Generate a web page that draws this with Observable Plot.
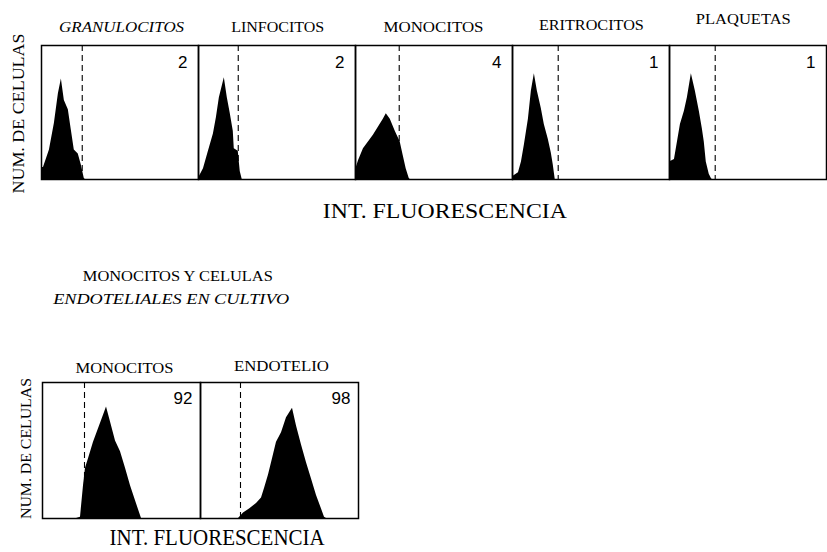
<!DOCTYPE html>
<html>
<head>
<meta charset="utf-8">
<script src="https://cdn.jsdelivr.net/npm/d3@7"></script>
<script src="https://cdn.jsdelivr.net/npm/@observablehq/plot@0.6"></script>
<style>
  html, body { margin: 0; padding: 0; background: #fff; }
  #root { position: relative; width: 827px; height: 552px; overflow: hidden; background: #fff; }
  .plotbox { position: absolute; left: 0; }
  .lbl { position: absolute; left: 0; top: 0; white-space: nowrap; line-height: 1; color: #000;
         font-family: "Liberation Serif", "DejaVu Serif", serif; transform-origin: center center; }
</style>
</head>
<body>
<div id="root"></div>
<script>
// ---------- DATA ----------
// Top row: cell types, histograms (x = fluorescence channel, y = % of panel height)
const topPanels = ["GRANULOCITOS", "LINFOCITOS", "MONOCITOS", "ERITROCITOS", "PLAQUETAS"];
const topNumbers = ["2", "2", "4", "1", "1"];
const topGates = [41, 40, 44, 46, 46];
const granX = [0, 2, 8, 13, 17, 20, 23, 27, 30, 33, 37, 40, 43, 44];
const granY = [9, 9, 22, 42, 64, 75, 59, 52, 37, 22, 19, 11, 1, 0];
const linfX = [0, 5, 10, 15, 18, 21, 24, 26, 29, 32, 35, 36, 40, 42, 44];
const linfY = [1, 8, 21, 34, 46, 61, 70, 76, 61, 49, 36, 23, 21, 6, 0];
const monoX = [0, 3, 8, 13, 18, 23, 28, 31, 35, 40, 45, 48, 51, 54, 55];
const monoY = [7, 14, 23, 28, 33, 39, 45, 49, 45, 36, 28, 18, 8, 1, 0];
const eritX = [0, 6, 9, 12, 16, 19, 22, 25, 29, 32, 36, 39, 41, 43];
const eritY = [2, 5, 13, 26, 45, 66, 79, 66, 53, 41, 30, 20, 11, 0];
const plaqX = [0, 5, 8, 11, 15, 18, 22, 26, 30, 33, 35, 37, 40, 42, 43];
const plaqY = [13, 15, 28, 41, 51, 61, 79, 66, 51, 38, 28, 13, 4, 1, 0];
const topX = [granX, linfX, monoX, eritX, plaqX];
const topY = [granY, linfY, monoY, eritY, plaqY];

// Bottom row: monocytes and endothelial cells in culture
const botPanels = ["MONOCITOS", "ENDOTELIO"];
const botNumbers = ["92", "98"];
const botGates = [42, 40];
const cMonoX = [34, 38, 41, 43, 46, 51, 56, 61, 64, 68, 73, 78, 83, 88, 93, 99];
const cMonoY = [0, 1, 24, 37, 44, 56, 66, 76, 82, 71, 57, 49, 37, 24, 13, 0];
const endoX = [38, 43, 49, 56, 61, 64, 68, 72, 76, 81, 86, 92, 96, 101, 106, 111, 116, 121, 124, 126];
const endoY = [0, 4, 7, 11, 15, 22, 32, 44, 56, 63, 74, 81, 68, 54, 41, 29, 17, 7, 1, 0];
const botX = [cMonoX, endoX];
const botY = [cMonoY, endoY];

const yLabel = "NUM. DE CELULAS";
const xLabel = "INT. FLUORESCENCIA";
const subtitle = ["MONOCITOS Y CELULAS", "ENDOTELIALES EN CULTIVO"];

// ---------- BUILD ----------
const root = document.getElementById("root");

function rowData(panels, xs, ys) {
  return panels.flatMap((p, i) => xs[i].map((x, j) => ({ panel: p, x, y: ys[i][j] })));
}

function makeRow(panels, xs, ys, gates, numbers, opt) {
  const data = rowData(panels, xs, ys);
  const gateData = panels.map((p, i) => ({ panel: p, gate: gates[i] }));
  const numData = panels.map((p, i) => ({ panel: p, n: numbers[i] }));
  return Plot.plot({
    width: opt.width, height: opt.height,
    marginTop: opt.mt, marginBottom: opt.mb, marginLeft: opt.ml, marginRight: 1,
    x: { domain: [0, 158], axis: null },
    y: { domain: [0, 100], axis: null },
    fx: { domain: panels, padding: 0, axis: null },
    style: { background: "transparent", overflow: "visible" },
    marks: [
      Plot.areaY(data, { x: "x", y: "y", fx: "panel", fill: "black", curve: "linear" }),
      Plot.ruleX(gateData, { x: "gate", fx: "panel", stroke: "black", strokeWidth: 1.1, strokeDasharray: "6,4" }),
      Plot.text(numData, { fx: "panel", text: "n", frameAnchor: "top-right", textAnchor: "end", lineAnchor: "top",
        dx: opt.ndx, dy: opt.ndy, fontSize: 17, fontFamily: "Liberation Sans, Arial, sans-serif", fill: "black" }),
      Plot.frame({ stroke: "black", strokeWidth: 1.5 })
    ]
  });
}

const topChart = makeRow(topPanels, topX, topY, topGates, topNumbers,
  { width: 827, height: 184, mt: 45, mb: 5, ml: 40, ndx: -11, ndy: 10 });
const topBox = document.createElement("div");
topBox.className = "plotbox"; topBox.style.top = "0px";
topBox.append(topChart); root.append(topBox);

const botChart = makeRow(botPanels, botX, botY, botGates, botNumbers,
  { width: 359, height: 184, mt: 42, mb: 6, ml: 42, ndx: -8, ndy: 9 });
const botBox = document.createElement("div");
botBox.className = "plotbox"; botBox.style.top = "340px";
botBox.append(botChart); root.append(botBox);

// text labels, fitted to the widths measured on the reference
function label(text, cx, cy, w, size, o = {}) {
  const el = document.createElement("div");
  el.className = "lbl";
  el.textContent = text;
  el.style.fontSize = size + "px";
  if (o.italic) el.style.fontStyle = "italic";
  root.append(el);
  const r = el.getBoundingClientRect();
  const sx = w / r.width;
  el.style.left = (cx - r.width / 2) + "px";
  el.style.top = (cy - r.height / 2) + "px";
  el.style.transform = (o.rotate ? "rotate(-90deg) " : "") + `scale(${sx},1)`;
}

const topLbl = [[122, 28, 125], [278, 28, 93], [433, 28, 100], [591, 26, 105], [743, 20, 95]];
topPanels.forEach((p, i) => label(p, topLbl[i][0], topLbl[i][1], topLbl[i][2], 14, { italic: i === 0 }));
label(yLabel, 19, 113, 160, 17, { rotate: true });
label(xLabel, 445, 211, 244, 22);

label(subtitle[0], 178, 276, 190, 15);
label(subtitle[1], 171, 299, 236, 15, { italic: true });
const botLbl = [[124, 368, 98], [281, 366, 95]];
botPanels.forEach((p, i) => label(p, botLbl[i][0], botLbl[i][1], botLbl[i][2], 15));
label(yLabel, 27, 448, 141, 15, { rotate: true });
label(xLabel, 217, 537, 215, 24);
</script>
</body>
</html>
